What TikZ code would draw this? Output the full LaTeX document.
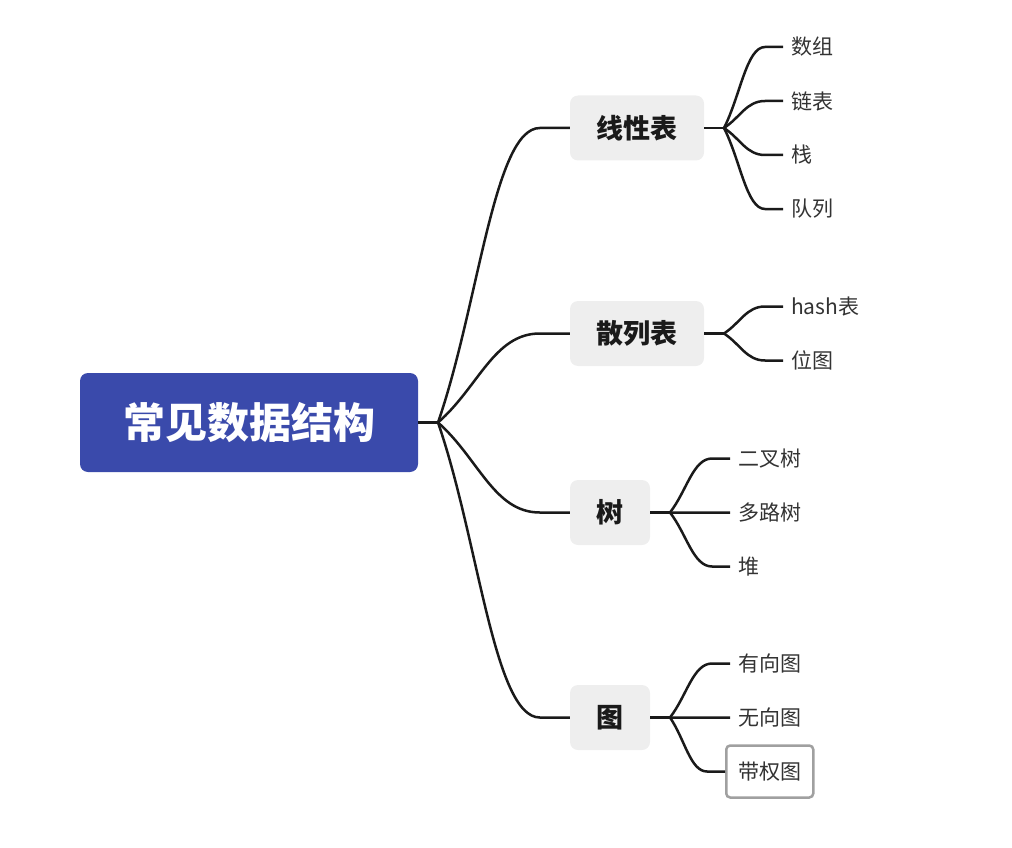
\documentclass[tikz,border=0pt]{standalone}
\usepackage{fontspec}
\setmainfont{Noto Sans CJK SC}
\usetikzlibrary{positioning,calc}
\definecolor{mmblue}{HTML}{3A4AAB}
\definecolor{mmink}{HTML}{1A1A1A}
\definecolor{mmtext}{HTML}{333333}
\definecolor{mmpanel}{HTML}{EEEEEE}
\definecolor{mmframe}{HTML}{A0A0A0}
\tikzset{
  bx/.style={rounded corners=8pt, align=center, inner sep=0pt},
  rootbx/.style={bx, fill=mmblue, text=white, font=\fontsize{42}{48}\selectfont\bfseries, minimum width=338pt, minimum height=99pt},
  topbx/.style={bx, fill=mmpanel, text=mmink, font=\fontsize{27}{32}\selectfont\bfseries, minimum height=65pt},
  leaf/.style={anchor=west, inner xsep=8pt, inner ysep=2pt, text=mmtext, font=\fontsize{21}{25}\selectfont},
  sel/.style={leaf, draw=mmframe, line width=2.5pt, rounded corners=4pt, inner xsep=12pt, minimum height=52pt},
  br/.style={line width=2.5pt, color=mmink},
}
\begin{document}
\begin{tikzpicture}[x=1pt, y=-1pt]
  \useasboundingbox (0,0) rectangle (1012,848);
  % root and first level
  \node[rootbx] (root) at (249,422.5) {常见数据结构};
  \node[topbx, minimum width=134pt] (lin) at (637,128) {线性表};
  \node[topbx, minimum width=134pt] (hsh) at (637,333.5) {散列表};
  \node[topbx, minimum width=80pt] (tre) at (610,512.5) {树};
  \node[topbx, minimum width=80pt] (gra) at (610,717.5) {图};
  \coordinate (h0) at (438,422.5);
  \coordinate (h1) at (724,128);
  \coordinate (h2) at (724,333.5);
  \coordinate (h3) at (670,512.5);
  \coordinate (h4) at (670,717.5);
  % leaves
  \node[leaf] (arr) at (783,47) {数组};
  \node[leaf] (lnk) at (783,101) {链表};
  \node[leaf] (stk) at (783,155) {栈};
  \node[leaf] (que) at (783,209) {队列};
  \node[leaf] (hs) at (783,306.5) {hash表};
  \node[leaf] (bmp) at (783,360.5) {位图};
  \node[leaf] (bin) at (730,458.5) {二叉树};
  \node[leaf] (mul) at (730,512.5) {多路树};
  \node[leaf] (hp) at (730,566.5) {堆};
  \node[leaf] (dg) at (730,663.5) {有向图};
  \node[leaf] (ug) at (730,717.5) {无向图};
  \node[sel] (wg) at (725,771.5) {带权图};
  % branches
  \draw[br] (root.east) -- (h0);
  \foreach \n/\h in {lin/h1,hsh/h2,tre/h3,gra/h4} \draw[br] (\n.east) -- (\h);
  \foreach \n in {lin,hsh,tre,gra}
    \draw[br] (\n.west) -- ++(-30,0) coordinate (k) .. controls ($(k)!.45!(k-|h0)$) and ($(h0)!.4!(k)$) .. (h0);
  \foreach \n/\h in {arr/h1,lnk/h1,stk/h1,que/h1,hs/h2,bmp/h2,bin/h3,mul/h3,hp/h3,dg/h4,ug/h4,wg/h4}
    \draw[br] (\n.west) -- ++(-18,0) coordinate (k) .. controls ($(k)!.45!(k-|\h)$) and ($(\h)!.4!(k)$) .. (\h);
\end{tikzpicture}
\end{document}
